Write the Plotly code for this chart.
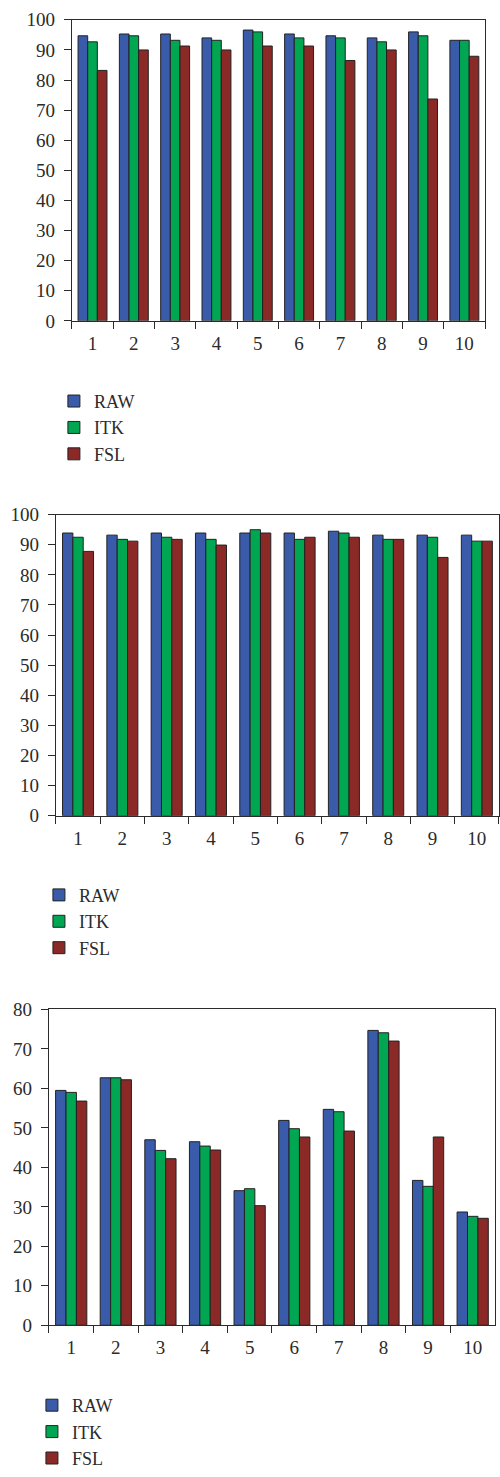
import plotly.graph_objects as go

# Category labels shared by the three panels
groups = [str(i) for i in range(1, 11)]
series_names = ["RAW", "ITK", "FSL"]
series_colors = ["#3A5BA9", "#00A651", "#8B2926"]

# Panel 1 values
p1_raw = [94.7, 95.3, 95.3, 94.0, 96.6, 95.3, 94.7, 94.0, 96.0, 93.2]
p1_itk = [92.7, 94.7, 93.2, 93.2, 96.0, 94.0, 94.0, 92.7, 94.7, 93.2]
p1_fsl = [83.2, 90.0, 91.3, 90.0, 91.3, 91.3, 86.5, 90.0, 73.7, 87.9]

# Panel 2 values
p2_raw = [93.9, 93.2, 93.9, 93.9, 93.9, 93.9, 94.5, 93.2, 93.2, 93.2]
p2_itk = [92.5, 91.8, 92.5, 91.8, 95.0, 91.8, 93.9, 91.8, 92.5, 91.2]
p2_fsl = [87.8, 91.2, 91.8, 89.9, 93.9, 92.5, 92.5, 91.8, 85.8, 91.2]

# Panel 3 values
p3_raw = [59.5, 62.7, 47.0, 46.5, 34.1, 51.9, 54.7, 74.7, 36.7, 28.7]
p3_itk = [59.0, 62.7, 44.3, 45.4, 34.6, 49.8, 54.1, 74.1, 35.2, 27.6]
p3_fsl = [56.8, 62.2, 42.2, 44.4, 30.3, 47.7, 49.2, 72.0, 47.7, 27.1]

# Y-axis tick values for each panel
p1_ticks = list(range(0, 101, 10))
p2_ticks = list(range(0, 101, 10))
p3_ticks = list(range(0, 81, 10))

W, H = 500, 1477
FONT = "Liberation Serif"
INK = "#2b2b2b"


def fy(px):
    return 1 - px / H


panels = [
    dict(data=[p1_raw, p1_itk, p1_fsl], ticks=p1_ticks,
         xd=(72, 486), yd=(10, 316), leg=(54, 379)),
    dict(data=[p2_raw, p2_itk, p2_fsl], ticks=p2_ticks,
         xd=(56, 500), yd=(513, 819), leg=(39, 881)),
    dict(data=[p3_raw, p3_itk, p3_fsl], ticks=p3_ticks,
         xd=(49, 496), yd=(1016, 1337), leg=(32, 1400)),
]

fig = go.Figure()
layout = dict(
    width=W, height=H,
    margin=dict(l=0, r=0, t=0, b=0),
    paper_bgcolor="white", plot_bgcolor="white",
    barmode="group", bargap=0.3, bargroupgap=0,
    font=dict(family=FONT, size=19, color=INK),
    showlegend=True,
)

for i, pnl in enumerate(panels):
    k = "" if i == 0 else str(i + 1)
    legname = "legend" + k
    for name, color, vals in zip(series_names, series_colors, pnl["data"]):
        fig.add_trace(go.Bar(
            x=groups, y=vals, name=name,
            marker=dict(color=color, line=dict(color="#222222", width=1)),
            xaxis="x" + k, yaxis="y" + k, legend=legname,
        ))
    x0, x1 = pnl["xd"]
    y0, y1 = pnl["yd"]
    layout["xaxis" + k] = dict(
        domain=[x0 / W, min(x1 / W, 1.0)], anchor="y" + k,
        type="category", tickson="boundaries",
        ticks="outside", ticklen=7, tickwidth=1.2, tickcolor=INK,
        showline=True, linecolor=INK, linewidth=1.3, mirror=True,
        showgrid=False, ticklabelstandoff=5,
        tickfont=dict(family=FONT, size=19, color=INK),
        fixedrange=True,
    )
    layout["yaxis" + k] = dict(
        domain=[fy(y1), fy(y0)], anchor="x" + k,
        range=[0, pnl["ticks"][-1]], tickvals=pnl["ticks"],
        ticks="outside", ticklen=7, tickwidth=1.2, tickcolor=INK,
        showline=True, linecolor=INK, linewidth=1.3, mirror=True,
        showgrid=False, zeroline=False, ticklabelstandoff=5,
        tickfont=dict(family=FONT, size=19, color=INK),
        fixedrange=True,
    )
    lx, ly = pnl["leg"]
    layout[legname] = dict(
        x=lx / W, y=fy(ly), xanchor="left", yanchor="top",
        orientation="v", bgcolor="rgba(0,0,0,0)",
        font=dict(family=FONT, size=18, color=INK),
        traceorder="normal", itemclick=False, itemdoubleclick=False,
    )

fig.update_layout(**layout)
fig.write_html("out.html")
